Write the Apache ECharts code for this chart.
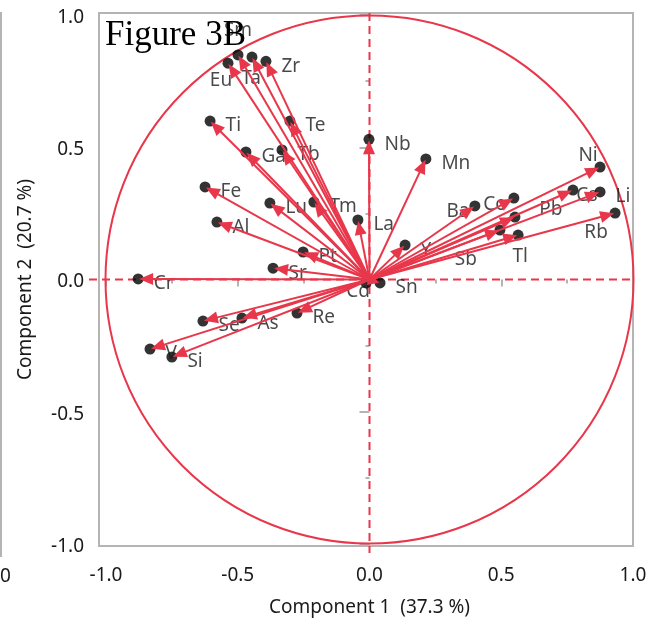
<!DOCTYPE html>
<html><head><meta charset="utf-8">
<script src="https://cdn.jsdelivr.net/npm/echarts@6/dist/echarts.min.js"></script>
<style>html,body{margin:0;padding:0;background:#fff}#c{width:662px;height:626px}</style>
</head><body><div id="c"></div>
<script>
// ---- data (loadings) ----
const elements = ['Sm','Eu','Ta','Zr','Ti','Te','Ga','Tb','Fe','Al','Lu','Tm','La','Nb','Mn','Pt','Sr','Cr','Cd','Sn','Re','As','Se','V','Si','Y','Ba','Co','Pb','Tl','Sb','Ni','Cs','Li','Rb'];
const component1 = [-0.499,-0.537,-0.446,-0.393,-0.605,-0.302,-0.469,-0.332,-0.624,-0.579,-0.378,-0.211,-0.044,-0.002,0.214,-0.252,-0.366,-0.878,-0.013,0.040,-0.275,-0.484,-0.632,-0.833,-0.750,0.135,0.400,0.548,0.552,0.564,0.495,0.875,0.772,0.875,0.932];
const component2 = [0.849,0.818,0.841,0.825,0.599,0.599,0.482,0.490,0.350,0.217,0.289,0.293,0.225,0.530,0.456,0.104,0.043,0.002,-0.013,-0.013,-0.127,-0.146,-0.157,-0.263,-0.293,0.130,0.278,0.308,0.236,0.168,0.187,0.425,0.338,0.331,0.251];
const tickValues = [-1.0,-0.5,0.0,0.5,1.0];
const tickLabels = ['-1.0','-0.5','0.0','0.5','1.0'];
const xTitle = 'Component 1  (37.3 %)';
const yTitle = 'Component 2  (20.7 %)';
const figureTitle = 'Figure 3B';

// ---- styles ----
const RED = '#e8374b';
const GRAY = '#b4b4b4';
const TXT = '#1a1a1a';
const FONT = '"Noto Sans", "Open Sans", sans-serif';
// label placement (centre offsets in px) for labels not placed to the right of their point
const labelShift = {
  Sm:[0,-24], Eu:[-7,17], Ta:[-1,22], Ni:[-12,-11], Ba:[-17,6], Co:[-19,7],
  Rb:[-19,19], Tl:[2,22], Sb:[-34,30], Cs:[14,5], Pb:[36,-7], Cd:[-8,9]
};

const fmt = v => { const i = tickValues.findIndex(t => Math.abs(t - v) < 1e-9); return i >= 0 ? tickLabels[i] : ''; };

const pts = elements.map((n, i) => [component1[i], component2[i]]);
const dotData = elements.map((n, i) => {
  const item = { name: n, value: pts[i] };
  if (labelShift[n]) item.label = { position: 'inside', offset: labelShift[n], align: 'center', verticalAlign: 'middle' };
  return item;
});

function renderArrow(params, api) {
  const p = api.coord([api.value(0), api.value(1)]);
  const o = api.coord([0, 0]);
  const dx = p[0] - o[0], dy = p[1] - o[1];
  const len = Math.hypot(dx, dy);
  if (len < 2) return { type: 'group', children: [] };
  const ux = dx / len, uy = dy / len;
  const L = Math.min(14, len), W = 6;
  const tx = p[0] - ux * 1, ty = p[1] - uy * 1;
  const bx = tx - ux * L, by = ty - uy * L;
  return { type: 'group', children: [
    { type: 'line', shape: { x1: o[0], y1: o[1], x2: bx + ux, y2: by + uy }, style: { stroke: RED, lineWidth: 2 } },
    { type: 'polygon', shape: { points: [[tx, ty], [bx - uy * W, by + ux * W], [bx + uy * W, by - ux * W]] }, style: { fill: RED } }
  ]};
}

function renderGuides(params, api) {
  const c = api.coord([0, 0]);
  const s = api.size([1, 1]);
  const top = api.coord([0, 1]), bot = api.coord([0, -1]);
  const lft = api.coord([-1, 0]), rgt = api.coord([1, 0]);
  const r = (s[0] + s[1]) / 2;
  return { type: 'group', children: [
    { type: 'circle', shape: { cx: c[0], cy: c[1], r: r }, style: { fill: 'none', stroke: RED, lineWidth: 2 } },
    { type: 'line', shape: { x1: c[0], y1: top[1] - 2, x2: c[0], y2: bot[1] + 9 }, style: { stroke: RED, lineWidth: 2, lineDash: [8, 5] } },
    { type: 'line', shape: { x1: lft[0] - 17, y1: c[1], x2: rgt[0], y2: c[1] }, style: { stroke: RED, lineWidth: 2, lineDash: [8, 5] } }
  ]};
}

const chart = echarts.init(document.getElementById('c'), null, { renderer: 'canvas' });
const axisCommon = {
  type: 'value', min: -1, max: 1, interval: 0.5,
  axisLine: { show: false },
  splitLine: { show: false },
  axisLabel: { fontSize: 19, color: TXT, fontFamily: FONT, formatter: fmt },
  nameLocation: 'middle',
  nameTextStyle: { fontSize: 19, color: TXT, fontFamily: FONT }
};
chart.setOption({
  animation: false,
  backgroundColor: '#fff',
  grid: { left: 106, top: 15, width: 527, height: 529 },
  xAxis: Object.assign({}, axisCommon, {
    position: 'bottom', offset: 2,
    axisTick: { show: true, length: 7, lineStyle: { color: GRAY, width: 2 } },
    minorTick: { show: true, splitNumber: 2, length: 4, lineStyle: { color: GRAY, width: 2 } },
    axisLabel: Object.assign({}, axisCommon.axisLabel, { margin: 20 }),
    name: xTitle, nameGap: 52
  }),
  yAxis: Object.assign({}, axisCommon, {
    position: 'left', offset: 7,
    axisTick: { show: true, length: 10, lineStyle: { color: GRAY, width: 2 } },
    minorTick: { show: true, splitNumber: 2, length: 4, lineStyle: { color: GRAY, width: 2 } },
    axisLabel: Object.assign({}, axisCommon.axisLabel, { margin: 15, verticalAlign: 'top', lineHeight: 5 }),
    name: yTitle, nameGap: 64, nameRotate: 90
  }),
  series: [
    { type: 'custom', coordinateSystem: 'cartesian2d', data: [[0, 0]], renderItem: renderGuides, silent: true, z: 1 },
    { type: 'scatter', data: dotData, symbol: 'circle', symbolSize: 11, itemStyle: { color: '#000' }, z: 2,
      label: { show: true, formatter: '{b}', position: 'right', distance: 10, offset: [0, 5],
               fontSize: 19, color: TXT, fontFamily: FONT } },
    { type: 'custom', coordinateSystem: 'cartesian2d', data: pts, renderItem: renderArrow, silent: true, z: 3 }
  ]
});

// frame and decorations positioned from the axes
const tl = chart.convertToPixel({ gridIndex: 0 }, [-1, 1]);
const br = chart.convertToPixel({ gridIndex: 0 }, [1, -1]);
chart.setOption({
  graphic: [
    { type: 'rect', z: 0, silent: true, shape: { x: tl[0] - 7, y: tl[1] - 2, width: br[0] - tl[0] + 7, height: br[1] - tl[1] + 4 },
      style: { fill: 'none', stroke: GRAY, lineWidth: 2 } },
    { type: 'line', z: 0, silent: true, shape: { x1: 1, y1: 12, x2: 1, y2: 557 }, style: { stroke: GRAY, lineWidth: 2 } },
    { type: 'text', z: 0, silent: true, left: 0, top: 567, style: { text: '0', font: '19px ' + FONT, fill: TXT } },
    { type: 'text', z: 100, silent: true, left: tl[0] - 1, top: 18,
      style: { text: figureTitle, font: '35px "Liberation Serif", "Times New Roman", serif', fill: '#000' } }
  ]
});
</script></body></html>
